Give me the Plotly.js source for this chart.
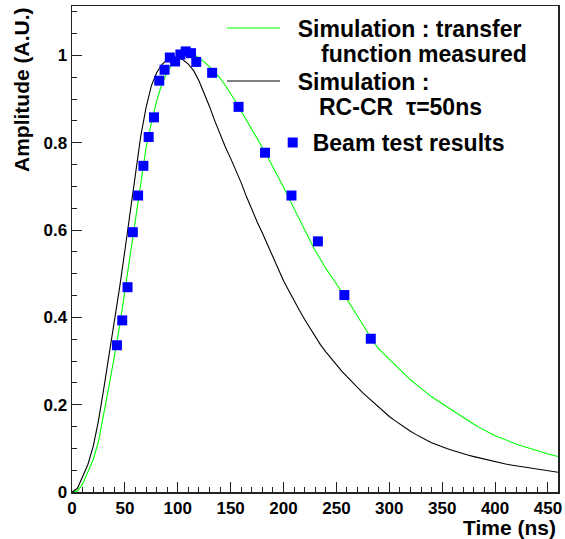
<!DOCTYPE html>
<html>
<head>
<meta charset="utf-8">
<script src="https://cdn.plot.ly/plotly-3.0.1.min.js"></script>
<style>html,body{margin:0;padding:0;background:#fff;}#chart{width:565px;height:539px;}</style>
</head>
<body>
<div id="chart"></div>
<script>
// Time bins (ns)
const timeNs = [0,5,10,15,20,25,30,35,40,45,50,55,60,65,70,75,80,85,90,95,100,105,110,115,120,125,130,135,140,145,150,155,160,165,170,175,180,185,190,195,200,205,210,215,220,225,230,235,240,245,250,255,260,265,270,275,280,285,290,295,300,305,310,315,320,325,330,335,340,345,350,355,360,365,370,375,380,385,390,395,400,405,410,415,420,425,430,435,440,445,450,455,460];

// Simulation: transfer function measured (green)
const simTransfer = [0,0.002,0.018,0.044,0.074,0.115,0.175,0.243,0.31,0.38,0.46,0.545,0.625,0.71,0.788,0.845,0.895,0.935,0.962,0.981,0.993,1.0,1.004,1.003,0.995,0.985,0.974,0.962,0.948,0.931,0.913,0.893,0.872,0.852,0.831,0.81,0.789,0.767,0.745,0.722,0.698,0.673,0.648,0.624,0.6,0.576,0.553,0.532,0.512,0.494,0.477,0.46,0.441,0.422,0.402,0.382,0.362,0.344,0.328,0.316,0.304,0.292,0.28,0.268,0.257,0.247,0.237,0.227,0.218,0.21,0.202,0.194,0.186,0.178,0.17,0.162,0.155,0.148,0.141,0.135,0.129,0.124,0.119,0.114,0.11,0.106,0.102,0.098,0.094,0.09,0.087,0.084,0.081];

// Simulation: RC-CR tau=50ns (black)
const simRCCR = [0,0.008,0.035,0.063,0.104,0.163,0.236,0.31,0.385,0.468,0.553,0.64,0.727,0.815,0.88,0.93,0.96,0.979,0.99,0.995,0.995,0.99,0.98,0.965,0.942,0.914,0.883,0.85,0.818,0.79,0.764,0.738,0.708,0.676,0.646,0.619,0.593,0.566,0.538,0.51,0.484,0.461,0.437,0.416,0.395,0.376,0.355,0.337,0.321,0.306,0.291,0.277,0.264,0.251,0.238,0.227,0.216,0.205,0.194,0.183,0.173,0.164,0.155,0.147,0.139,0.132,0.125,0.119,0.113,0.108,0.103,0.099,0.095,0.091,0.088,0.084,0.081,0.078,0.075,0.072,0.069,0.067,0.064,0.062,0.06,0.058,0.056,0.054,0.052,0.05,0.048,0.046,0.045];

// Beam test results (blue squares)
const beamTime = [42.5,47.5,52.5,57.5,62.5,67.5,72.5,77.5,82.5,87.5,92.5,97.5,102.5,107.5,112.5,117.5,132.5,157.5,182.5,207.5,232.5,257.5,282.5];
const beamAmp = [0.336,0.393,0.469,0.595,0.679,0.747,0.813,0.858,0.942,0.967,0.995,0.986,1.002,1.009,1.005,0.985,0.960,0.882,0.777,0.679,0.574,0.451,0.351];

// Labels
const nameTransfer = "\u00a0\u00a0Simulation : transfer";
const nameTransfer2 = "function measured";
const nameRCCR = "\u00a0\u00a0Simulation :";
const nameRCCR2 = "RC-CR\u00a0\u00a0\u03c4=50ns";
const nameBeam = "Beam test results";
const xTitle = "Time (ns)";
const yTitle = "Amplitude (A.U.)";

const FONT = "Liberation Sans, Arial, Helvetica, sans-serif";
const legFont = {family: FONT, size: 23, weight: 'bold', color: '#000'};

const traces = [
  {x: timeNs, y: simTransfer, type: 'scatter', mode: 'lines', name: nameTransfer, legend: 'legend',
   line: {color: '#00ff00', width: 1.1}},
  {x: timeNs, y: simRCCR, type: 'scatter', mode: 'lines', name: nameRCCR, legend: 'legend2',
   line: {color: '#000000', width: 1.1}},
  {x: beamTime, y: beamAmp, type: 'scatter', mode: 'markers', name: nameBeam, legend: 'legend3',
   marker: {symbol: 'square', size: 10, color: '#0000ff'}}
];

function leg(x, y, w) {
  return {x: x, y: y, xanchor: 'left', yanchor: 'middle', bgcolor: 'rgba(0,0,0,0)',
          borderwidth: 0, font: legFont, itemwidth: w};
}

const layout = {
  width: 565, height: 539,
  margin: {l: 72, r: 7, t: 6, b: 47},
  paper_bgcolor: '#ffffff', plot_bgcolor: '#ffffff',
  font: {family: FONT, color: '#000', weight: 'bold'},
  showlegend: true,
  legend: leg(0.3086, 0.9547, 53),
  legend2: leg(0.3086, 0.8457, 53),
  legend3: leg(0.413, 0.7191, 30),
  xaxis: {range: [0, 459.5], showgrid: false, zeroline: false,
          showline: true, linecolor: '#222', linewidth: 1.5, mirror: true,
          ticks: 'inside', ticklen: 10, tickwidth: 1, tickcolor: '#222',
          tick0: 0, dtick: 50,
          minor: {ticks: 'inside', ticklen: 5, dtick: 10, tickcolor: '#222', showgrid: false},
          tickfont: {family: FONT, size: 17, weight: 'bold', color: '#000'}},
  yaxis: {range: [0, 1.113], showgrid: false, zeroline: false,
          showline: true, linecolor: '#222', linewidth: 1.5, mirror: true,
          ticks: 'inside', ticklen: 10, tickwidth: 1, tickcolor: '#222',
          tick0: 0, dtick: 0.2,
          minor: {ticks: 'inside', ticklen: 5, dtick: 0.05, tickcolor: '#222', showgrid: false},
          tickfont: {family: FONT, size: 17, weight: 'bold', color: '#000'}},
  annotations: [
    {text: nameTransfer2, xref: 'paper', yref: 'paper', x: 0.5103, y: 0.9012, xanchor: 'left', yanchor: 'middle',
     showarrow: false, font: legFont, borderpad: 0},
    {text: nameRCCR2, xref: 'paper', yref: 'paper', x: 0.5062, y: 0.7922, xanchor: 'left', yanchor: 'middle',
     showarrow: false, font: legFont, borderpad: 0},
    {text: xTitle, xref: 'paper', yref: 'paper', x: 1.0, y: -0.045, xanchor: 'right', yanchor: 'top',
     showarrow: false, font: {family: FONT, size: 21, weight: 'bold', color: '#000'}},
    {text: yTitle, xref: 'paper', yref: 'paper', x: -0.105, y: 1.0, xanchor: 'center', yanchor: 'top',
     textangle: -90, showarrow: false, font: {family: FONT, size: 21, weight: 'bold', color: '#000'}}
  ]
};

Plotly.newPlot('chart', traces, layout, {staticPlot: true, displayModeBar: false});
</script>
</body>
</html>
